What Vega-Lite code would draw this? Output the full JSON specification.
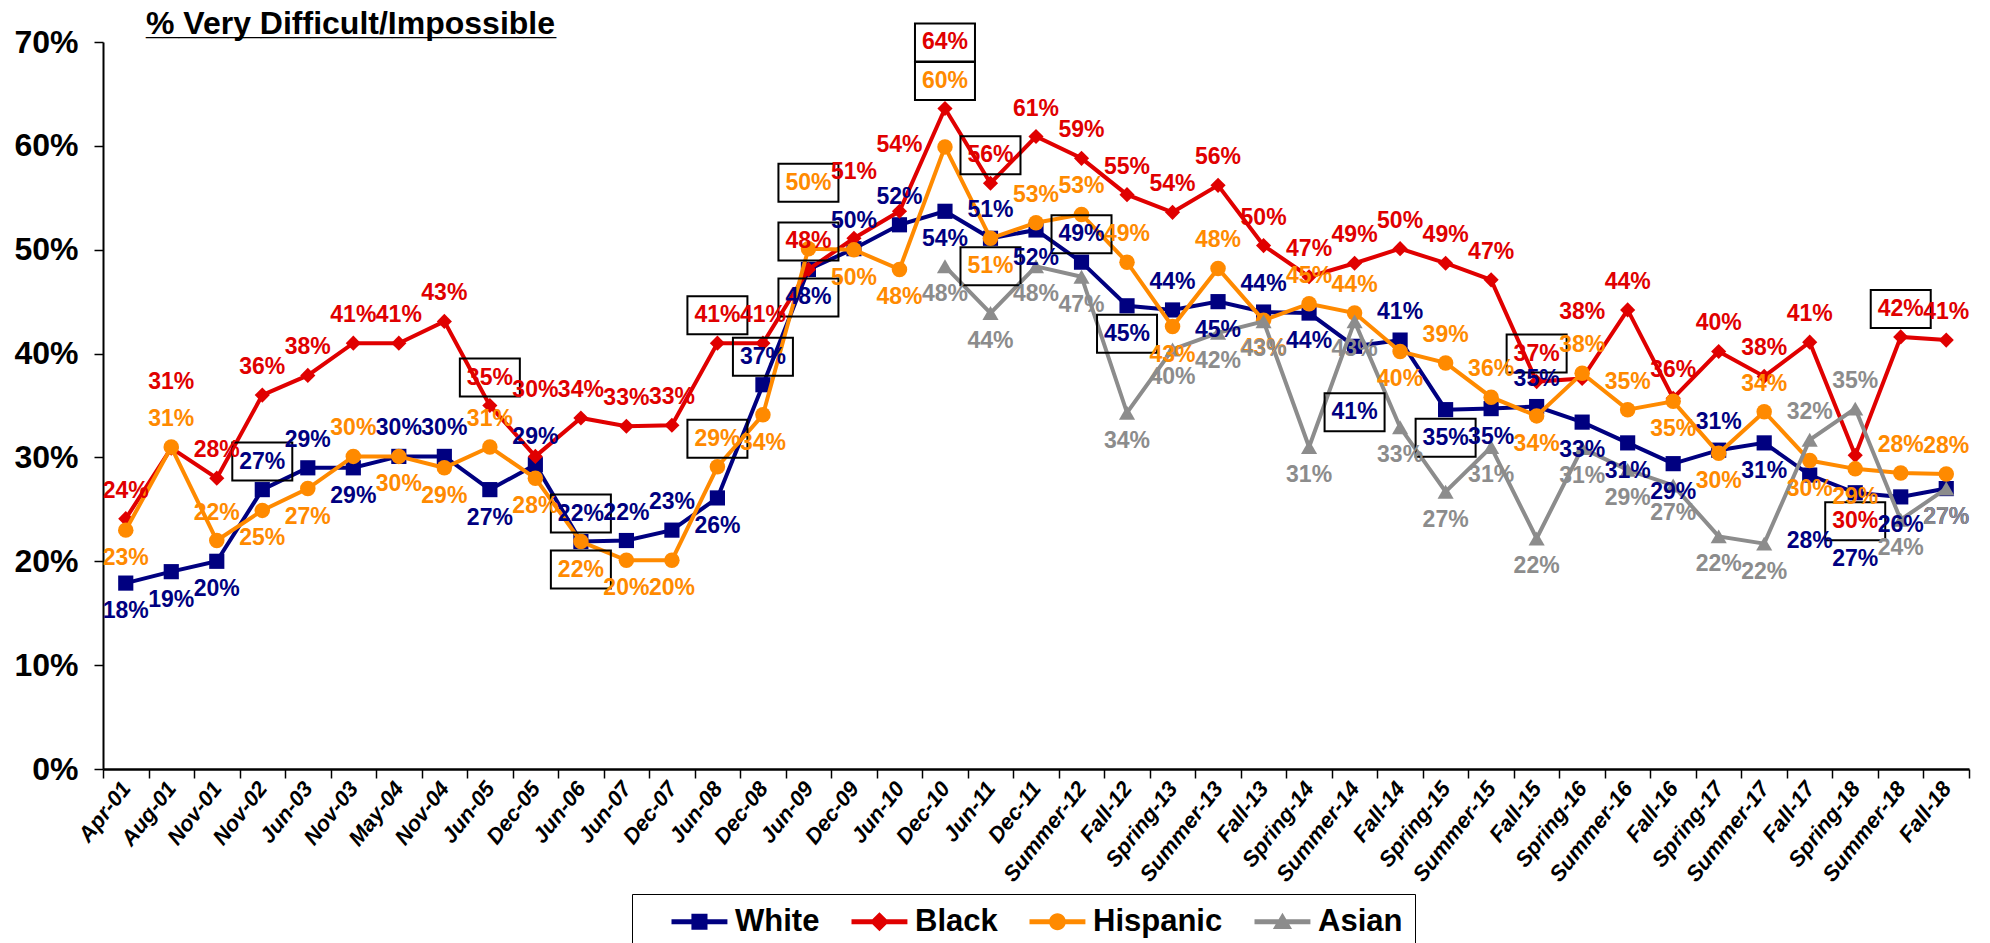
{
  "$schema": "https://vega.github.io/schema/vega-lite/v6.json",
  "width": 1866,
  "height": 727,
  "autosize": {"type": "none"},
  "padding": {"left": 103, "top": 42, "right": 21, "bottom": 174},
  "background": "white",
  "config": {"view": {"stroke": null}, "font": "Liberation Sans"},
  "title": {
    "text": "% Very Difficult/Impossible",
    "subtitle": "_________________________",
    "anchor": "start",
    "frame": "group",
    "dx": 43,
    "offset": -22,
    "font": "Liberation Sans",
    "fontSize": 32,
    "fontWeight": "bold",
    "color": "black",
    "subtitleFont": "Liberation Sans",
    "subtitleFontSize": 29.5,
    "subtitleFontWeight": "bold",
    "subtitleColor": "black",
    "subtitlePadding": -29
  },
  "data": {
    "values": [
      {"period": "Apr-01", "group": "White", "value": 0.179},
      {"period": "Aug-01", "group": "White", "value": 0.190},
      {"period": "Nov-01", "group": "White", "value": 0.200},
      {"period": "Nov-02", "group": "White", "value": 0.269, "boxed": true},
      {"period": "Jun-03", "group": "White", "value": 0.290},
      {"period": "Nov-03", "group": "White", "value": 0.290},
      {"period": "May-04", "group": "White", "value": 0.301},
      {"period": "Nov-04", "group": "White", "value": 0.301},
      {"period": "Jun-05", "group": "White", "value": 0.269},
      {"period": "Dec-05", "group": "White", "value": 0.293},
      {"period": "Jun-06", "group": "White", "value": 0.219, "boxed": true},
      {"period": "Jun-07", "group": "White", "value": 0.220},
      {"period": "Dec-07", "group": "White", "value": 0.230},
      {"period": "Jun-08", "group": "White", "value": 0.261},
      {"period": "Dec-08", "group": "White", "value": 0.370, "boxed": true},
      {"period": "Jun-09", "group": "White", "value": 0.481, "boxed": true},
      {"period": "Dec-09", "group": "White", "value": 0.501},
      {"period": "Jun-10", "group": "White", "value": 0.524},
      {"period": "Dec-10", "group": "White", "value": 0.537},
      {"period": "Jun-11", "group": "White", "value": 0.511},
      {"period": "Dec-11", "group": "White", "value": 0.519},
      {"period": "Summer-12", "group": "White", "value": 0.488, "boxed": true},
      {"period": "Fall-12", "group": "White", "value": 0.446, "boxed": true},
      {"period": "Spring-13", "group": "White", "value": 0.442},
      {"period": "Summer-13", "group": "White", "value": 0.450},
      {"period": "Fall-13", "group": "White", "value": 0.440},
      {"period": "Spring-14", "group": "White", "value": 0.439},
      {"period": "Summer-14", "group": "White", "value": 0.407, "boxed": true},
      {"period": "Fall-14", "group": "White", "value": 0.413},
      {"period": "Spring-15", "group": "White", "value": 0.346, "boxed": true},
      {"period": "Summer-15", "group": "White", "value": 0.347},
      {"period": "Fall-15", "group": "White", "value": 0.349},
      {"period": "Spring-16", "group": "White", "value": 0.334},
      {"period": "Summer-16", "group": "White", "value": 0.314},
      {"period": "Fall-16", "group": "White", "value": 0.294},
      {"period": "Spring-17", "group": "White", "value": 0.307},
      {"period": "Summer-17", "group": "White", "value": 0.314},
      {"period": "Fall-17", "group": "White", "value": 0.283},
      {"period": "Spring-18", "group": "White", "value": 0.266},
      {"period": "Summer-18", "group": "White", "value": 0.262},
      {"period": "Fall-18", "group": "White", "value": 0.270},

      {"period": "Apr-01", "group": "Black", "value": 0.241},
      {"period": "Aug-01", "group": "Black", "value": 0.309},
      {"period": "Nov-01", "group": "Black", "value": 0.280},
      {"period": "Nov-02", "group": "Black", "value": 0.360},
      {"period": "Jun-03", "group": "Black", "value": 0.379},
      {"period": "Nov-03", "group": "Black", "value": 0.410},
      {"period": "May-04", "group": "Black", "value": 0.410},
      {"period": "Nov-04", "group": "Black", "value": 0.431},
      {"period": "Jun-05", "group": "Black", "value": 0.350, "boxed": true},
      {"period": "Dec-05", "group": "Black", "value": 0.301},
      {"period": "Jun-06", "group": "Black", "value": 0.338},
      {"period": "Jun-07", "group": "Black", "value": 0.330},
      {"period": "Dec-07", "group": "Black", "value": 0.331},
      {"period": "Jun-08", "group": "Black", "value": 0.410, "boxed": true},
      {"period": "Dec-08", "group": "Black", "value": 0.410},
      {"period": "Jun-09", "group": "Black", "value": 0.481, "boxed": true},
      {"period": "Dec-09", "group": "Black", "value": 0.511},
      {"period": "Jun-10", "group": "Black", "value": 0.537},
      {"period": "Dec-10", "group": "Black", "value": 0.636, "boxed": true},
      {"period": "Jun-11", "group": "Black", "value": 0.564, "boxed": true},
      {"period": "Dec-11", "group": "Black", "value": 0.609},
      {"period": "Summer-12", "group": "Black", "value": 0.588},
      {"period": "Fall-12", "group": "Black", "value": 0.553},
      {"period": "Spring-13", "group": "Black", "value": 0.536},
      {"period": "Summer-13", "group": "Black", "value": 0.562},
      {"period": "Fall-13", "group": "Black", "value": 0.504},
      {"period": "Spring-14", "group": "Black", "value": 0.474},
      {"period": "Summer-14", "group": "Black", "value": 0.487},
      {"period": "Fall-14", "group": "Black", "value": 0.501},
      {"period": "Spring-15", "group": "Black", "value": 0.487},
      {"period": "Summer-15", "group": "Black", "value": 0.471},
      {"period": "Fall-15", "group": "Black", "value": 0.373, "boxed": true},
      {"period": "Spring-16", "group": "Black", "value": 0.376},
      {"period": "Summer-16", "group": "Black", "value": 0.442},
      {"period": "Fall-16", "group": "Black", "value": 0.357},
      {"period": "Spring-17", "group": "Black", "value": 0.402},
      {"period": "Summer-17", "group": "Black", "value": 0.378},
      {"period": "Fall-17", "group": "Black", "value": 0.411},
      {"period": "Spring-18", "group": "Black", "value": 0.302, "boxed": true},
      {"period": "Summer-18", "group": "Black", "value": 0.416, "boxed": true},
      {"period": "Fall-18", "group": "Black", "value": 0.413},

      {"period": "Apr-01", "group": "Hispanic", "value": 0.230},
      {"period": "Aug-01", "group": "Hispanic", "value": 0.310},
      {"period": "Nov-01", "group": "Hispanic", "value": 0.220},
      {"period": "Nov-02", "group": "Hispanic", "value": 0.249},
      {"period": "Jun-03", "group": "Hispanic", "value": 0.270},
      {"period": "Nov-03", "group": "Hispanic", "value": 0.301},
      {"period": "May-04", "group": "Hispanic", "value": 0.301},
      {"period": "Nov-04", "group": "Hispanic", "value": 0.290},
      {"period": "Jun-05", "group": "Hispanic", "value": 0.310},
      {"period": "Dec-05", "group": "Hispanic", "value": 0.280},
      {"period": "Jun-06", "group": "Hispanic", "value": 0.219, "boxed": true},
      {"period": "Jun-07", "group": "Hispanic", "value": 0.201},
      {"period": "Dec-07", "group": "Hispanic", "value": 0.201},
      {"period": "Jun-08", "group": "Hispanic", "value": 0.291, "boxed": true},
      {"period": "Dec-08", "group": "Hispanic", "value": 0.341},
      {"period": "Jun-09", "group": "Hispanic", "value": 0.501, "boxed": true},
      {"period": "Dec-09", "group": "Hispanic", "value": 0.500},
      {"period": "Jun-10", "group": "Hispanic", "value": 0.481},
      {"period": "Dec-10", "group": "Hispanic", "value": 0.599, "boxed": true},
      {"period": "Jun-11", "group": "Hispanic", "value": 0.511, "boxed": true},
      {"period": "Dec-11", "group": "Hispanic", "value": 0.526},
      {"period": "Summer-12", "group": "Hispanic", "value": 0.534},
      {"period": "Fall-12", "group": "Hispanic", "value": 0.488},
      {"period": "Spring-13", "group": "Hispanic", "value": 0.426},
      {"period": "Summer-13", "group": "Hispanic", "value": 0.482},
      {"period": "Fall-13", "group": "Hispanic", "value": 0.432},
      {"period": "Spring-14", "group": "Hispanic", "value": 0.448},
      {"period": "Summer-14", "group": "Hispanic", "value": 0.439},
      {"period": "Fall-14", "group": "Hispanic", "value": 0.402},
      {"period": "Spring-15", "group": "Hispanic", "value": 0.391},
      {"period": "Summer-15", "group": "Hispanic", "value": 0.358},
      {"period": "Fall-15", "group": "Hispanic", "value": 0.340},
      {"period": "Spring-16", "group": "Hispanic", "value": 0.381},
      {"period": "Summer-16", "group": "Hispanic", "value": 0.346},
      {"period": "Fall-16", "group": "Hispanic", "value": 0.354},
      {"period": "Spring-17", "group": "Hispanic", "value": 0.304},
      {"period": "Summer-17", "group": "Hispanic", "value": 0.344},
      {"period": "Fall-17", "group": "Hispanic", "value": 0.297},
      {"period": "Spring-18", "group": "Hispanic", "value": 0.289},
      {"period": "Summer-18", "group": "Hispanic", "value": 0.285},
      {"period": "Fall-18", "group": "Hispanic", "value": 0.284},

      {"period": "Dec-10", "group": "Asian", "value": 0.484},
      {"period": "Jun-11", "group": "Asian", "value": 0.439},
      {"period": "Dec-11", "group": "Asian", "value": 0.484},
      {"period": "Summer-12", "group": "Asian", "value": 0.474},
      {"period": "Fall-12", "group": "Asian", "value": 0.343},
      {"period": "Spring-13", "group": "Asian", "value": 0.404},
      {"period": "Summer-13", "group": "Asian", "value": 0.420},
      {"period": "Fall-13", "group": "Asian", "value": 0.431},
      {"period": "Spring-14", "group": "Asian", "value": 0.310},
      {"period": "Summer-14", "group": "Asian", "value": 0.431},
      {"period": "Fall-14", "group": "Asian", "value": 0.329},
      {"period": "Spring-15", "group": "Asian", "value": 0.267},
      {"period": "Summer-15", "group": "Asian", "value": 0.310},
      {"period": "Fall-15", "group": "Asian", "value": 0.222},
      {"period": "Spring-16", "group": "Asian", "value": 0.309},
      {"period": "Summer-16", "group": "Asian", "value": 0.288},
      {"period": "Fall-16", "group": "Asian", "value": 0.273},
      {"period": "Spring-17", "group": "Asian", "value": 0.224},
      {"period": "Summer-17", "group": "Asian", "value": 0.217},
      {"period": "Fall-17", "group": "Asian", "value": 0.317},
      {"period": "Spring-18", "group": "Asian", "value": 0.347},
      {"period": "Summer-18", "group": "Asian", "value": 0.240},
      {"period": "Fall-18", "group": "Asian", "value": 0.270}
    ]
  },
  "transform": [
    {"calculate": "datum.group === 'White' ? datum.value : null", "as": "w"},
    {"calculate": "datum.group === 'Hispanic' ? datum.value : null", "as": "hsp"},
    {"calculate": "datum.group === 'Asian' ? datum.value : null", "as": "asn"},
    {"calculate": "datum.group === 'Black' ? datum.value : null", "as": "blk"},
    {"calculate": "datum.group === 'Hispanic' && datum.boxed === true ? 1 : 0", "as": "hb"},
    {"calculate": "datum.group === 'Black' && datum.boxed === true ? 1 : 0", "as": "bb"},
    {"joinaggregate": [
      {"op": "max", "field": "w", "as": "wv"},
      {"op": "max", "field": "hsp", "as": "hv"},
      {"op": "max", "field": "asn", "as": "av"},
      {"op": "max", "field": "blk", "as": "bv"},
      {"op": "max", "field": "hb", "as": "hbx"},
      {"op": "max", "field": "bb", "as": "bbx"}
    ], "groupby": ["period"]},
    {"calculate": "isValid(datum.av) && datum.av > datum.hv && datum.av > datum.wv", "as": "aUp"},
    {"calculate": "datum.hv > datum.wv && !(datum.bv - datum.hv > 0 && datum.bv - datum.hv < 0.02) && !(datum.aUp && datum.av - datum.hv < 0.03)", "as": "hUp"},
    {"calculate": "datum.wv >= datum.hv || (isValid(datum.av) && !datum.aUp && datum.wv - datum.av > 0 && datum.wv - datum.av < 0.02)", "as": "wUp"},
    {"calculate": "isValid(datum.av) && datum.bv < datum.av", "as": "bDown"},
    {"calculate": "datum.hbx === 1 && datum.bbx === 1 && datum.hUp && datum.bv - datum.hv > 0.035 && datum.bv - datum.hv < 0.045", "as": "pairUp"},
    {"calculate": "(datum.bDown && abs(datum.wv - datum.bv) < 0.05) || (!datum.hUp && datum.hv > datum.wv && datum.hv - datum.wv < 0.02) || (isValid(datum.av) && !datum.aUp && datum.av > datum.wv && datum.av - datum.wv < 0.03)", "as": "wDown2"},
    {"calculate": "datum.group === 'Black' ? (datum.bDown ? 'below2' : ((datum.pairUp || (datum.hUp && abs(datum.hv - datum.bv) <= 0.006) || (datum.wUp && abs(datum.wv - datum.bv) < 0.02)) ? 'above2' : 'above')) : datum.group === 'Hispanic' ? (!datum.hUp ? 'below' : ((datum.pairUp || (!datum.bDown && datum.hv - datum.bv > 0.006 && datum.hv - datum.bv < 0.035)) ? 'above2' : 'above')) : datum.group === 'White' ? (datum.wUp ? 'above' : (datum.wDown2 ? 'below2' : 'below')) : (datum.aUp ? 'above' : 'below')", "as": "side"}
  ],
  "encoding": {
    "x": {
      "field": "period",
      "type": "ordinal",
      "scale": {
        "type": "band",
        "paddingInner": 0,
        "paddingOuter": 0,
        "domain": ["Apr-01","Aug-01","Nov-01","Nov-02","Jun-03","Nov-03","May-04","Nov-04","Jun-05","Dec-05","Jun-06","Jun-07","Dec-07","Jun-08","Dec-08","Jun-09","Dec-09","Jun-10","Dec-10","Jun-11","Dec-11","Summer-12","Fall-12","Spring-13","Summer-13","Fall-13","Spring-14","Summer-14","Fall-14","Spring-15","Summer-15","Fall-15","Spring-16","Summer-16","Fall-16","Spring-17","Summer-17","Fall-17","Spring-18","Summer-18","Fall-18"]
      },
      "axis": {
        "title": null,
        "tickBand": "extent",
        "labelAngle": -52,
        "labelAlign": "right",
        "labelBaseline": "middle",
        "labelFont": "Liberation Sans",
        "labelFontWeight": "bold",
        "labelFontStyle": "italic",
        "labelFontSize": 22,
        "labelColor": "black",
        "labelPadding": 6,
        "tickColor": "black",
        "tickSize": 9,
        "tickWidth": 1.5,
        "domainColor": "black",
        "domainWidth": 2.5,
        "grid": false
      }
    },
    "y": {
      "field": "value",
      "type": "quantitative",
      "scale": {"domain": [0, 0.7], "nice": false},
      "axis": {
        "title": null,
        "format": ".0%",
        "values": [0, 0.1, 0.2, 0.3, 0.4, 0.5, 0.6, 0.7],
        "labelFont": "Liberation Sans",
        "labelFontWeight": "bold",
        "labelFontSize": 32,
        "labelColor": "black",
        "labelPadding": 16,
        "tickColor": "black",
        "tickSize": 9,
        "tickWidth": 1.5,
        "domainColor": "black",
        "domainWidth": 2,
        "grid": false
      }
    }
  },
  "layer": [
    {
      "transform": [{"filter": "datum.value < 0"}],
      "mark": {"type": "point", "filled": true, "opacity": 1},
      "encoding": {
        "color": {
          "field": "group", "type": "nominal",
          "scale": {"domain": ["White", "Black", "Hispanic", "Asian"], "range": ["#000080", "#E00000", "#FF8A00", "#8C8C8C"]},
          "legend": {
            "title": null, "orient": "none", "legendX": 529, "legendY": 852, "direction": "horizontal",
            "symbolSize": 576, "symbolStrokeWidth": 0, "symbolOpacity": 1,
            "labelFont": "Liberation Sans", "labelFontWeight": "bold", "labelFontSize": 31, "labelColor": "black",
            "labelOffset": 60, "columnPadding": 4, "padding": 12,
            "strokeColor": "black", "fillColor": "white"
          }
        },
        "shape": {
          "field": "group", "type": "nominal",
          "scale": {
            "domain": ["White", "Black", "Hispanic", "Asian"],
            "range": [
              "M1,-0.21H5.66V0.21H1Z M2.66,-0.67H4V0.67H2.66Z",
              "M1,-0.21H5.66V0.21H1Z M3.33,-0.8L4.13,0L3.33,0.8L2.53,0Z",
              "M1,-0.21H5.66V0.21H1Z M2.63,0A0.7,0.7 0 1,1 4.03,0A0.7,0.7 0 1,1 2.63,0Z",
              "M1,-0.21H5.66V0.21H1Z M3.33,-0.75L4.13,0.6H2.53Z"
            ]
          },
          "legend": {
            "title": null, "orient": "none", "legendX": 529, "legendY": 852, "direction": "horizontal",
            "symbolSize": 576, "symbolStrokeWidth": 0, "symbolOpacity": 1,
            "labelFont": "Liberation Sans", "labelFontWeight": "bold", "labelFontSize": 31, "labelColor": "black",
            "labelOffset": 60, "columnPadding": 4, "padding": 12,
            "strokeColor": "black", "fillColor": "white"
          }
        }
      }
    },
    {
      "transform": [{"filter": "datum.group === 'White'"}],
      "mark": {"type": "line", "strokeWidth": 4, "point": {"shape": "square", "size": 230, "filled": true, "opacity": 1}},
      "encoding": {"color": {"field": "group", "type": "nominal"}}
    },
    {
      "transform": [{"filter": "datum.group === 'Black'"}],
      "mark": {"type": "line", "strokeWidth": 4, "point": {"shape": "diamond", "size": 230, "filled": true, "opacity": 1}},
      "encoding": {"color": {"field": "group", "type": "nominal"}}
    },
    {
      "transform": [{"filter": "datum.group === 'Hispanic'"}],
      "mark": {"type": "line", "strokeWidth": 4, "point": {"shape": "circle", "size": 240, "filled": true, "opacity": 1}},
      "encoding": {"color": {"field": "group", "type": "nominal"}}
    },
    {
      "transform": [{"filter": "datum.group === 'Asian'"}],
      "mark": {"type": "line", "strokeWidth": 4, "point": {"shape": "triangle-up", "size": 260, "filled": true, "opacity": 1}},
      "encoding": {"color": {"field": "group", "type": "nominal"}}
    },
    {
      "transform": [{"filter": "datum.side === 'above' && datum.boxed === true"}],
      "mark": {"type": "point", "shape": "M-1.5,-0.95H1.5V0.95H-1.5Z", "size": 1600, "filled": false, "fill": null, "stroke": "black", "strokeWidth": 2, "opacity": 1, "yOffset": -28},
      "encoding": {}
    },
    {
      "transform": [{"filter": "datum.side === 'above2' && datum.boxed === true"}],
      "mark": {"type": "point", "shape": "M-1.5,-0.95H1.5V0.95H-1.5Z", "size": 1600, "filled": false, "fill": null, "stroke": "black", "strokeWidth": 2, "opacity": 1, "yOffset": -66},
      "encoding": {}
    },
    {
      "transform": [{"filter": "datum.side === 'below' && datum.boxed === true"}],
      "mark": {"type": "point", "shape": "M-1.5,-0.95H1.5V0.95H-1.5Z", "size": 1600, "filled": false, "fill": null, "stroke": "black", "strokeWidth": 2, "opacity": 1, "yOffset": 28},
      "encoding": {}
    },
    {
      "transform": [{"filter": "datum.side === 'below2' && datum.boxed === true"}],
      "mark": {"type": "point", "shape": "M-1.5,-0.95H1.5V0.95H-1.5Z", "size": 1600, "filled": false, "fill": null, "stroke": "black", "strokeWidth": 2, "opacity": 1, "yOffset": 66},
      "encoding": {}
    },
    {
      "transform": [{"filter": "datum.side === 'above'"}],
      "mark": {"type": "text", "font": "Liberation Sans", "fontWeight": "bold", "fontSize": 23, "baseline": "middle", "dy": -28},
      "encoding": {
        "text": {"field": "value", "type": "quantitative", "format": ".0%"},
        "color": {"field": "group", "type": "nominal"}
      }
    },
    {
      "transform": [{"filter": "datum.side === 'above2'"}],
      "mark": {"type": "text", "font": "Liberation Sans", "fontWeight": "bold", "fontSize": 23, "baseline": "middle", "dy": -66},
      "encoding": {
        "text": {"field": "value", "type": "quantitative", "format": ".0%"},
        "color": {"field": "group", "type": "nominal"}
      }
    },
    {
      "transform": [{"filter": "datum.side === 'below'"}],
      "mark": {"type": "text", "font": "Liberation Sans", "fontWeight": "bold", "fontSize": 23, "baseline": "middle", "dy": 28},
      "encoding": {
        "text": {"field": "value", "type": "quantitative", "format": ".0%"},
        "color": {"field": "group", "type": "nominal"}
      }
    },
    {
      "transform": [{"filter": "datum.side === 'below2'"}],
      "mark": {"type": "text", "font": "Liberation Sans", "fontWeight": "bold", "fontSize": 23, "baseline": "middle", "dy": 66},
      "encoding": {
        "text": {"field": "value", "type": "quantitative", "format": ".0%"},
        "color": {"field": "group", "type": "nominal"}
      }
    }
  ]
}
